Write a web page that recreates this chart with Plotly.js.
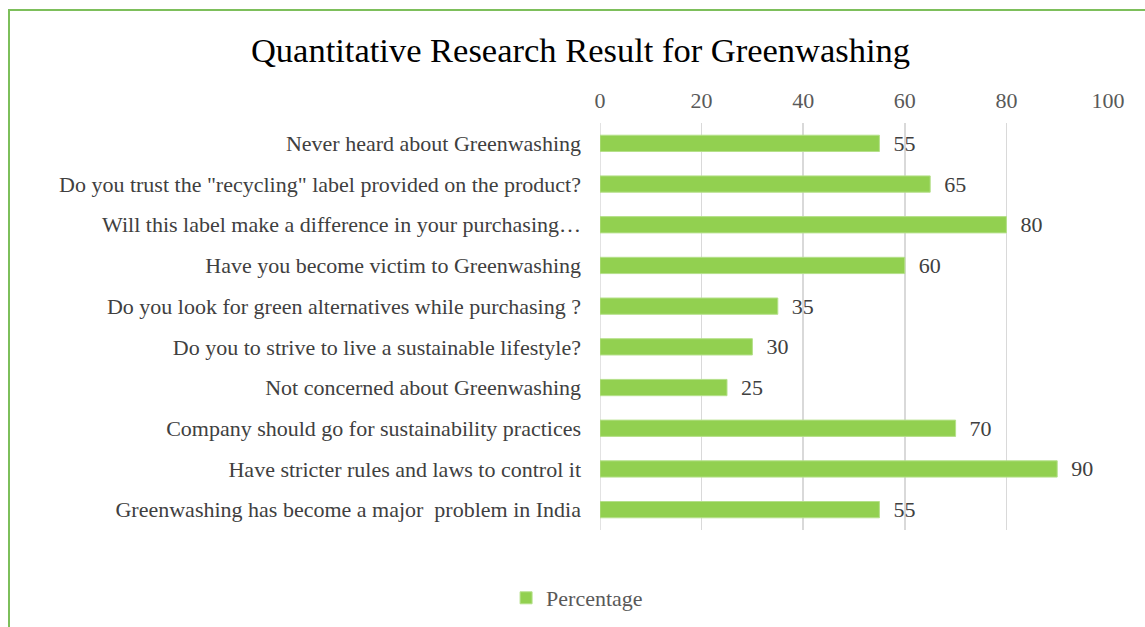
<!DOCTYPE html>
<html>
<head>
<meta charset="utf-8">
<script src="https://cdn.plot.ly/plotly-3.0.1.min.js"></script>
<style>
html,body{margin:0;padding:0;background:#fff;overflow:hidden;}
#frame{position:absolute;left:8px;top:9px;width:1400px;height:900px;border-left:2px solid #7DBF5B;border-top:2px solid #7DBF5B;pointer-events:none;z-index:2;}
#chart{position:absolute;left:0;top:0;width:1145px;height:627px;}
</style>
</head>
<body>
<div id="chart"></div>
<div id="frame"></div>
<script>
const categories = [
  "Never heard about Greenwashing",
  "Do you trust the \"recycling\" label provided on the product?",
  "Will this label make a difference in your purchasing…",
  "Have you become victim to Greenwashing",
  "Do you look for green alternatives while purchasing ?",
  "Do you to strive to live a sustainable lifestyle?",
  "Not concerned about Greenwashing",
  "Company should go for sustainability practices",
  "Have stricter rules and laws to control it",
  "Greenwashing has become a major  problem in India"
];
const percentage = [55, 65, 80, 60, 35, 30, 25, 70, 90, 55];
const xTicks = [0, 20, 40, 60, 80, 100];

const font = "Liberation Serif, Times New Roman, serif";

const trace = {
  type: "bar",
  orientation: "h",
  name: "Percentage",
  y: categories,
  x: percentage,
  text: percentage.map(v => "\u00a0\u00a0" + v),
  textposition: "outside",
  constraintext: "none",
  cliponaxis: false,
  textfont: {family: font, size: 22, color: "#404040"},
  marker: {color: "#92D050", line: {color: "#B5E08A", width: 1}},
  width: 0.4
};

const layout = {
  width: 1145,
  height: 627,
  paper_bgcolor: "#fff",
  plot_bgcolor: "#fff",
  margin: {l: 600, r: 37, t: 123, b: 97},
  font: {family: font, color: "#404040"},
  title: {
    text: "Quantitative Research Result for Greenwashing",
    font: {family: font, size: 34.5, color: "#000"},
    xref: "container", x: 0.507, xanchor: "center",
    yref: "container", y: 1 - 50/627, yanchor: "middle"
  },
  xaxis: {
    side: "top",
    range: [0, 100],
    tickvals: xTicks,
    ticktext: xTicks.map(String),
    showgrid: true,
    gridcolor: "#D9D9D9",
    gridwidth: 1.5,
    zeroline: false,
    showline: false,
    ticks: "",
    ticklabelstandoff: 10,
    tickfont: {family: font, size: 22, color: "#595959"},
    fixedrange: true
  },
  yaxis: {
    autorange: "reversed",
    showgrid: false,
    zeroline: false,
    showline: false,
    ticks: "",
    ticklabelstandoff: 18,
    tickfont: {family: font, size: 22, color: "#404040"},
    fixedrange: true
  },
  shapes: [{
    type: "line", xref: "x", yref: "paper", x0: 0, x1: 0, y0: 0, y1: 1,
    line: {color: "#D9D9D9", width: 1.5}, layer: "below"
  }],
  showlegend: true,
  legend: {
    orientation: "h",
    xref: "container", x: 0.504, xanchor: "center",
    yref: "container", y: 1 - 598/627, yanchor: "middle",
    font: {family: font, size: 22, color: "#595959"},
    itemwidth: 30
  },
  bargap: 0.6
};

Plotly.newPlot("chart", [trace], layout, {displayModeBar: false, staticPlot: true});
</script>
</body>
</html>
